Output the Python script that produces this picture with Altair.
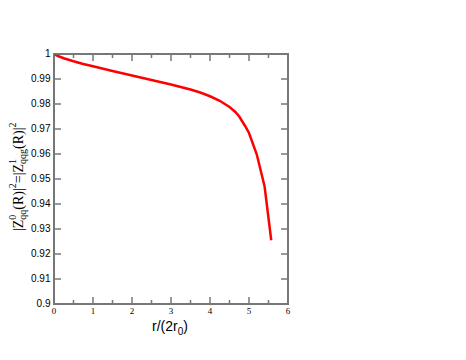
import altair as alt
import pandas as pd

# curve data
r_vals = [0.0, 0.1, 0.25, 0.5, 0.75, 1.0, 1.5, 2.0, 2.5, 3.0, 3.5, 3.75, 4.0, 4.25, 4.5, 4.65, 4.75, 4.9, 5.0, 5.2, 5.4, 5.57]
z_vals = [1.0, 0.9992, 0.9983, 0.9971, 0.9960, 0.9951, 0.9932, 0.9914, 0.9896, 0.9878, 0.9858, 0.9846,
          0.9831, 0.9813, 0.9788, 0.9768, 0.9750, 0.9712, 0.9684, 0.9598, 0.947, 0.9255]

x_major = [0, 1, 2, 3, 4, 5, 6]
x_labels = ["0", "1", "2", "3", "4", "5", "6"]
x_minor = [0.5, 1.5, 2.5, 3.5, 4.5, 5.5]
y_major = [0.9, 0.91, 0.92, 0.93, 0.94, 0.95, 0.96, 0.97, 0.98, 0.99, 1.0]
y_labels = ["0.9", "0.91", "0.92", "0.93", "0.94", "0.95", "0.96", "0.97", "0.98", "0.99", "1"]

W, H = 234, 250
GREY = "#777777"
SANS = "Liberation Sans"
SERIF = "Liberation Serif"

xs = alt.Scale(domain=[0, 6], nice=False, zero=False)
ys = alt.Scale(domain=[0.9, 1.0], nice=False, zero=False)

df = pd.DataFrame({"r": r_vals, "z": z_vals})

line = alt.Chart(df).mark_line(color="#ff0000", strokeWidth=2.5).encode(
    x=alt.X("r:Q", scale=xs, axis=None),
    y=alt.Y("z:Q", scale=ys, axis=None),
)

def xticks(vals, length, top):
    d = pd.DataFrame({"v": vals})
    if top:
        y1, y2 = 0, length
    else:
        y1, y2 = H, H - length
    return alt.Chart(d).mark_rule(color=GREY, strokeWidth=1.5).encode(
        x=alt.X("v:Q", scale=xs, axis=None), y=alt.value(y1), y2=alt.value(y2))

def yticks(vals, length, right):
    d = pd.DataFrame({"v": vals})
    if right:
        x1, x2 = W, W - length
    else:
        x1, x2 = 0, length
    return alt.Chart(d).mark_rule(color=GREY, strokeWidth=1.5).encode(
        y=alt.Y("v:Q", scale=ys, axis=None), x=alt.value(x1), x2=alt.value(x2))

tick_layers = [
    xticks(x_major, 7, False), xticks(x_minor, 4, False),
    xticks(x_major, 7, True), xticks(x_minor, 4, True),
    yticks(y_major, 7, False), yticks(y_major, 7, True),
]

xlab = alt.Chart(pd.DataFrame({"v": x_major, "t": x_labels})).mark_text(
    font=SERIF, fontSize=9, color="#000000", align="center", baseline="top").encode(
    x=alt.X("v:Q", scale=xs, axis=None), y=alt.value(H + 3), text="t:N")

ylab = alt.Chart(pd.DataFrame({"v": y_major, "t": y_labels})).mark_text(
    font=SANS, fontSize=10, color="#000000", align="right", baseline="middle").encode(
    y=alt.Y("v:Q", scale=ys, axis=None), x=alt.value(-3.5), text="t:N")

def txt(s, x, y, size, font, angle=0):
    d = pd.DataFrame({"t": [s]})
    kw = dict(font=font, fontSize=size, color="#000000", align="left", baseline="alphabetic")
    if angle:
        kw["angle"] = angle
    return alt.Chart(d).mark_text(**kw).encode(
        text="t:N", x=alt.value(x), y=alt.value(y))

# x-axis title: r/(2r_0)
xt = [
    txt("r/(2r", 98, 277, 14, SANS),
    txt("0", 123.7, 281, 10, SANS),
    txt(")", 129.2, 277, 14, SANS),
]

# y-axis title: |Z^0_qq(R)|^2=|Z^1_qqg(R)|^2  (rotated)
M, S = 14, 10
xb, xsup, xsub = -31, -38.5, -28
y0 = 177
w1 = 0.811 * M
w_qq = 2 * 0.5 * S
w_rp = 1.533 * M
w_sup = 0.5 * S
w_eq = 1.375 * M
w_qqg = 3 * 0.5 * S
p1 = y0
p2 = p1 - w1
p3 = p2 - w_qq
p4 = p3 - w_rp
p5 = p4 - w_sup
p6 = p5 - w_eq
p7 = p6 - w_qqg
p8 = p7 - w_rp
yt = [
    txt("|Z", xb, p1, M, SERIF, 270),
    txt("0", xsup, p2, S, SERIF, 270),
    txt("qq", xsub, p2, S, SERIF, 270),
    txt("(R)|", xb, p3, M, SERIF, 270),
    txt("2", xsup, p4, S, SERIF, 270),
    txt("=|Z", xb, p5, M, SERIF, 270),
    txt("1", xsup, p6, S, SERIF, 270),
    txt("qqg", xsub, p6, S, SERIF, 270),
    txt("(R)|", xb, p7, M, SERIF, 270),
    txt("2", xsup, p8, S, SERIF, 270),
]

chart = alt.layer(line, *tick_layers, xlab, ylab, *xt, *yt).properties(
    width=W, height=H,
    autosize=alt.AutoSizeParams(type="none"),
    padding={"left": 46, "top": 46, "right": 20, "bottom": 40},
).configure_view(stroke=GREY, strokeWidth=2)

chart.save("out.html", embed_options={"renderer": "svg", "actions": False})
